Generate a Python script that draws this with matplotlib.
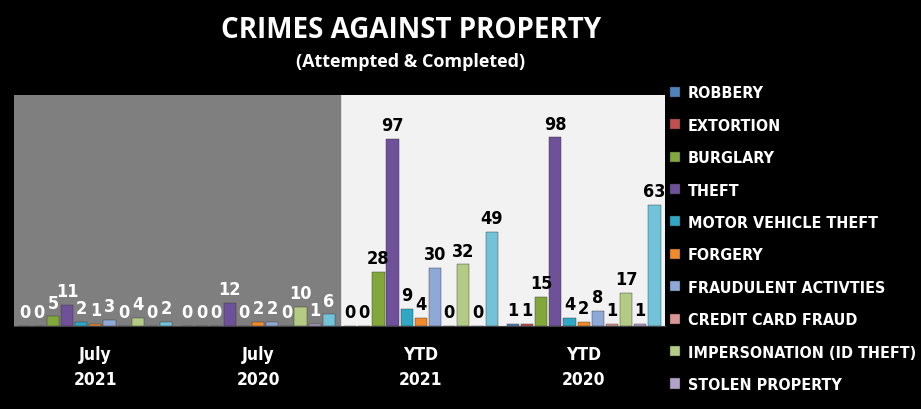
import numpy as np
import matplotlib
matplotlib.use("Agg")
import matplotlib.pyplot as plt

# ------------------------------------------------------------- data
periods = ["July\n2021", "July\n2020", "YTD\n2021", "YTD\n2020"]
series_names = ["ROBBERY", "EXTORTION", "BURGLARY", "THEFT", "MOTOR VEHICLE THEFT",
                "FORGERY", "FRAUDULENT ACTIVTIES", "CREDIT CARD FRAUD",
                "IMPERSONATION (ID THEFT)", "STOLEN PROPERTY", "OTHER"]
robbery = [0, 0, 0, 1]
extortion = [0, 0, 0, 1]
burglary = [5, 0, 28, 15]
theft = [11, 12, 97, 98]
motor_vehicle = [2, 0, 9, 4]
forgery = [1, 2, 4, 2]
fraudulent = [3, 2, 30, 8]
credit_card = [0, 0, 0, 1]
impersonation = [4, 10, 32, 17]
stolen_property = [0, 1, 0, 1]
other = [2, 6, 49, 63]

values = [robbery, extortion, burglary, theft, motor_vehicle, forgery,
          fraudulent, credit_card, impersonation, stolen_property, other]
colors = ["#4F81BD", "#C0504D", "#82A83C", "#6F519A", "#2EA8C4", "#F08A2C",
          "#8EA9D8", "#D99694", "#B3CB85", "#B3A2C7", "#72C2DA"]

# ------------------------------------------------------------- fonts
LBL_FONT = ["DejaVu Sans"]
STRETCH = "condensed"

fig = plt.figure(figsize=(9.21, 4.10), dpi=100, facecolor="black")
ax = fig.add_axes([14 / 921, 1 - 327 / 410, (665 - 14) / 921, (327 - 96) / 410])
ax.set_facecolor("#F2F2F2")
ax.axvspan(-0.5, 1.5, color="#7F7F7F", zorder=0)

n = len(values)
step = 0.087
width = 0.075
x = np.arange(len(periods))
handles = []
for i, (vals, col) in enumerate(zip(values, colors)):
    pos = x + (i - (n - 1) / 2) * step
    b = ax.bar(pos, vals, width, color=col, edgecolor="#333333", linewidth=0.3, zorder=2)
    handles.append(b)
    for px, v in zip(pos, vals):
        txt_col = "white" if px < 1.5 else "black"
        ax.text(px, v + 2.5, str(v), ha="center", va="bottom", fontsize=13,
                fontweight="bold", color=txt_col, family=LBL_FONT,
                fontstretch=STRETCH, zorder=3)

ax.set_xlim(-0.5, 3.5)
ax.set_ylim(0, 120)
ax.set_yticks([])
ax.set_xticks(x)
ax.set_xticklabels(periods, color="white", fontsize=12.5, fontweight="bold",
                   family=LBL_FONT, fontstretch=STRETCH, linespacing=1.5)
ax.tick_params(axis="x", length=0, pad=14)
for s in ["top", "left", "right"]:
    ax.spines[s].set_visible(False)
ax.spines["bottom"].set_color("#404040")

# ------------------------------------------------------------- title
fig.text(0.446, 0.925, "CRIMES AGAINST PROPERTY", ha="center", va="center",
         color="white", fontsize=20, fontweight="bold", family="Open Sans")
fig.text(0.446, 0.848, "(Attempted & Completed)", ha="center", va="center",
         color="white", fontsize=13, fontweight="bold", family="Open Sans")

# ------------------------------------------------------------- legend (last series is cut off)
leg = fig.legend(handles[:10], series_names[:10], loc="upper left",
                 bbox_to_anchor=(664 / 921, 1 - 80 / 410), frameon=False,
                 handlelength=0.6, handleheight=0.6, handletextpad=0.5,
                 labelspacing=1.09, borderaxespad=0,
                 prop={"family": LBL_FONT, "weight": "bold", "size": 11.5,
                       "stretch": STRETCH})
for t in leg.get_texts():
    t.set_color("white")

fig.savefig("out.png", dpi=100, facecolor="black")
